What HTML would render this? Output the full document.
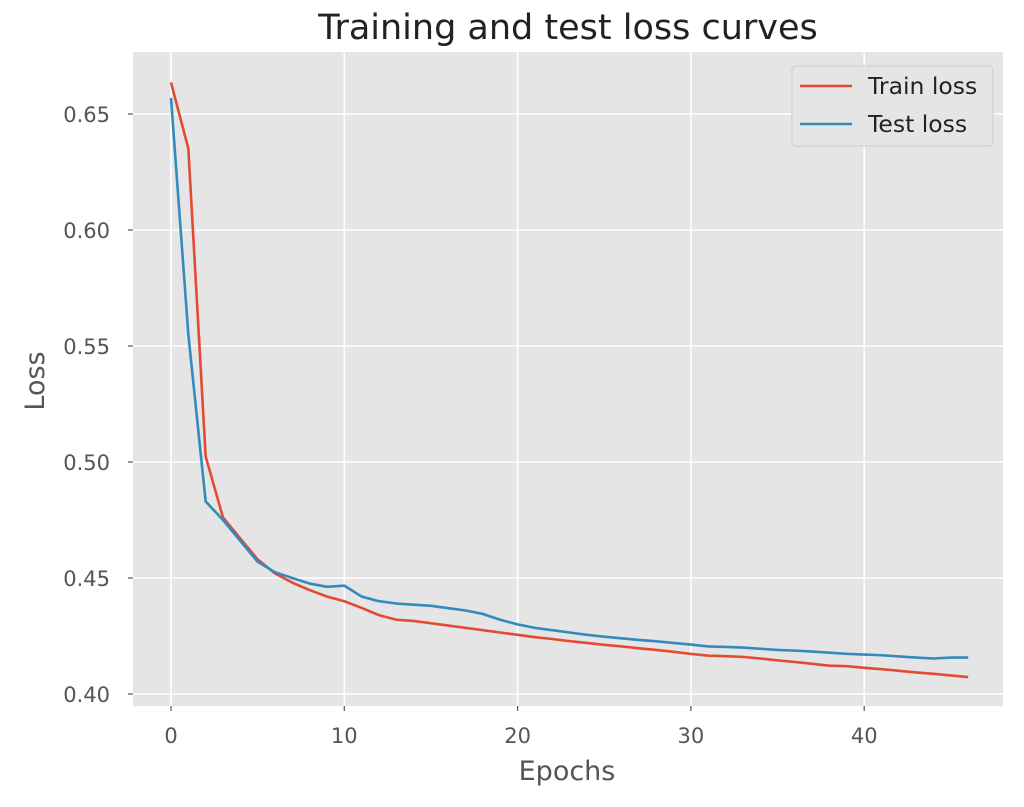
<!DOCTYPE html>
<html><head><meta charset="utf-8"><style>
body{margin:0;background:#fff;font-family:"Liberation Sans","DejaVu Sans",sans-serif}
svg text{font-family:"DejaVu Sans","Liberation Sans",sans-serif}
</style></head><body>
<svg id="c" width="1024" height="802"></svg>
<script>
const epochs=[];for(let i=0;i<47;i++)epochs.push(i);
const trainLoss=[0.6636,0.6351,0.5024,0.4761,0.467,0.458,0.452,0.448,0.4448,0.442,0.440,0.4371,0.434,0.432,0.4315,0.4305,0.4295,0.4285,0.4275,0.4265,0.4255,0.4245,0.4237,0.4228,0.422,0.4212,0.4205,0.4197,0.419,0.4182,0.4173,0.4165,0.4163,0.416,0.4153,0.4145,0.4138,0.413,0.4122,0.412,0.4113,0.4107,0.41,0.4093,0.4087,0.408,0.4073];
const testLoss=[0.6569,0.555,0.483,0.475,0.466,0.457,0.4525,0.450,0.4476,0.4462,0.4467,0.442,0.440,0.439,0.4385,0.438,0.437,0.436,0.4345,0.432,0.430,0.4285,0.4275,0.4265,0.4255,0.4247,0.424,0.4233,0.4227,0.422,0.4213,0.4205,0.4203,0.42,0.4195,0.419,0.4187,0.4183,0.4178,0.4173,0.417,0.4167,0.4162,0.4157,0.4153,0.4157,0.4157];
const xTicks=[0,10,20,30,40];
const yTicks=[0.40,0.45,0.50,0.55,0.60,0.65];
const X=v=>171+v*17.33, Y=v=>694-(v-0.40)*2320;
const NS="http://www.w3.org/2000/svg",svg=document.getElementById('c');
function mk(t,a,p){const e=document.createElementNS(NS,t);for(const k in a)e.setAttribute(k,a[k]);(p||svg).appendChild(e);return e;}
let e=mk('rect',{x:133,y:52,width:870,height:654,fill:'#e5e5e5'});


xTicks.forEach(t=>{
 let g=mk('line',{x1:X(t),x2:X(t),y1:52,y2:706,stroke:'#fff','stroke-width':1.6});
 
 
 mk('line',{x1:X(t),x2:X(t),y1:706,y2:711,stroke:'#555','stroke-width':1.2});
 let l=mk('text',{x:X(t),y:743,'text-anchor':'middle','font-size':21,fill:'#555'});l.textContent=t;
 
 
});
yTicks.forEach(t=>{
 let g=mk('line',{x1:133,x2:1003,y1:Y(t),y2:Y(t),stroke:'#fff','stroke-width':1.6});
 
 
 mk('line',{x1:128,x2:133,y1:Y(t),y2:Y(t),stroke:'#555','stroke-width':1.2});
 let l=mk('text',{x:110,y:Y(t)+8,'text-anchor':'end','font-size':21,fill:'#555'});l.textContent=t.toFixed(2);
 
 
});
function line(d,c,n){let p=mk('polyline',{points:d.map((v,i)=>X(epochs[i])+','+Y(v)).join(' '),fill:'none',stroke:c,'stroke-width':2.6,'stroke-linejoin':'round'});
 
 }
line(trainLoss,'#e24a33','train-loss-line');
line(testLoss,'#348abd','test-loss-line');
let t=mk('text',{x:568,y:39,'text-anchor':'middle','font-size':35,fill:'#222'});t.textContent='Training and test loss curves';


t=mk('text',{x:567,y:780,'text-anchor':'middle','font-size':27,fill:'#555'});t.textContent='Epochs';


t=mk('text',{x:0,y:0,'text-anchor':'middle','font-size':27,fill:'#555',transform:'translate(44,381) rotate(-90)'});t.textContent='Loss';


let lg=mk('g',{});


mk('rect',{x:792,y:66,width:201,height:80,rx:4,fill:'#e5e5e5',stroke:'#ccc','stroke-width':1},lg);
[['Train loss','#e24a33',86],['Test loss','#348abd',124]].forEach(([n,c,y])=>{
 mk('line',{x1:800,x2:852,y1:y,y2:y,stroke:c,'stroke-width':2.6},lg);
 let l=mk('text',{x:868,y:y+8,'font-size':23.5,fill:'#222'},lg);l.textContent=n;
 
 
});
</script>
</body></html>
